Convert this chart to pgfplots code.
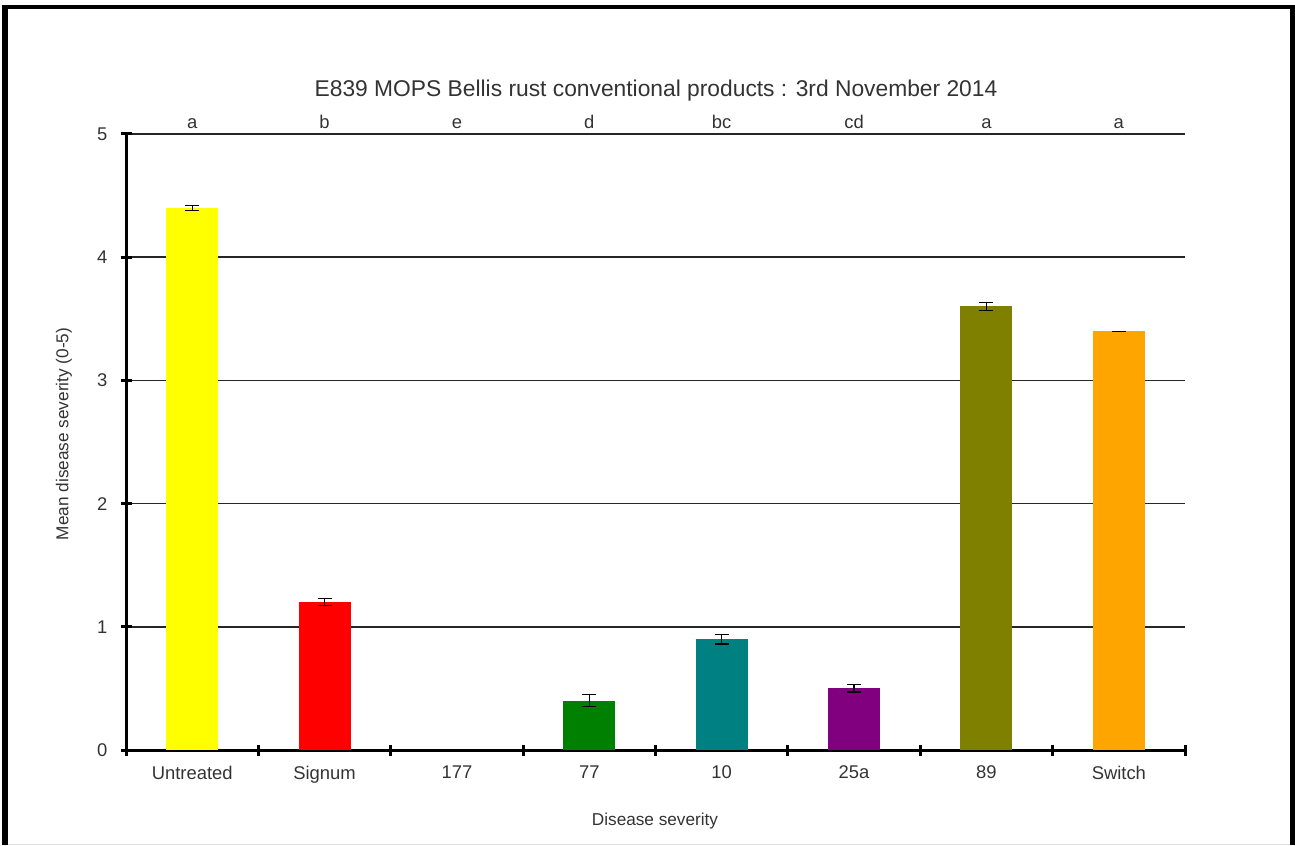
\documentclass[border=0pt]{standalone}
\usepackage{pgfplots}
\pgfplotsset{compat=1.18}
\usepackage{fontspec}
\setmainfont{Liberation Sans}
\definecolor{txt}{HTML}{333333}
\definecolor{cYellow}{HTML}{FFFF00}
\definecolor{cRed}{HTML}{FF0000}
\definecolor{cGreen}{HTML}{008000}
\definecolor{cTeal}{HTML}{008080}
\definecolor{cPurple}{HTML}{800080}
\definecolor{cOlive}{HTML}{808000}
\definecolor{cOrange}{HTML}{FFA500}
\begin{document}
\begin{tikzpicture}[x=0.5bp,y=0.5bp]
% page frame
\path[use as bounding box] (0,0) rectangle (1295,845);
\fill[black] (2,0) rectangle (8,840);
\fill[black] (2,835.5) rectangle (1295,840);
\fill[black] (1290,0) rectangle (1295,840);
\fill[black!12] (8,0) rectangle (1290,1.5);

\begin{axis}[
  at={(63bp,47.5bp)}, anchor=south west,
  scale only axis, width=529.5bp, height=308bp,
  ybar, bar width=26bp, bar shift=0pt,
  xmin=-0.5, xmax=7.5, ymin=0, ymax=5,
  axis x line=bottom, axis y line=left,
  axis line style={-, line width=1.5bp, black},
  ytick={0,1,2,3,4,5},
  ymajorgrids, grid style={line width=0.75bp, black!85},
  xtick={-0.5,0.5,...,7.5}, xticklabels={},
  extra x ticks={0,1,2,3,4,5,6,7},
  extra x tick labels={Untreated,Signum,177,77,10,25a,89,Switch},
  extra x tick style={major tick length=0pt, grid=none},
  tick align=center,
  major tick length=5.5bp,
  tick style={line width=1.5bp, black},
  ticklabel style={font=\fontsize{9.2bp}{10bp}\selectfont, text=txt},
  xticklabel style={yshift=-4.5bp},
  yticklabel style={xshift=-3bp},
  /pgf/number format/assume math mode=true,
  error bars/y dir=both, error bars/y explicit,
  error bars/error bar style={line width=0.6bp, black},
  error bars/error mark options={rotate=90, mark size=3.5bp, line width=0.6bp, black},
  clip=false,
]
\addplot[fill=cYellow, draw=none] coordinates {(0,4.4) +- (0,0.02)};
\addplot[fill=cRed, draw=none] coordinates {(1,1.2) +- (0,0.03)};
\addplot[fill=cGreen, draw=none] coordinates {(3,0.4) +- (0,0.05)};
\addplot[fill=cTeal, draw=none] coordinates {(4,0.9) +- (0,0.04)};
\addplot[fill=cPurple, draw=none] coordinates {(5,0.5) +- (0,0.03)};
\addplot[fill=cOlive, draw=none] coordinates {(6,3.6) +- (0,0.03)};
\addplot[fill=cOrange, draw=none] coordinates {(7,3.4) +- (0,0.0)};
% significance letters
\foreach \i/\l in {0/a,1/b,2/e,3/d,4/bc,5/cd,6/a,7/a}{
  \edef\tmp{\noexpand\node[anchor=south, inner sep=0pt, yshift=2.5bp,
    font=\noexpand\fontsize{9.2bp}{10bp}\noexpand\selectfont, text=txt]
    at (axis cs:\i,5) {\l};}
  \tmp
}
\end{axis}

% title and axis labels
\node[font=\fontsize{11.4bp}{13bp}\selectfont, text=txt] at (656,754) {E839 MOPS Bellis rust conventional products : 3rd November 2014};
\node[font=\fontsize{8.6bp}{10bp}\selectfont, text=txt] at (655,24) {Disease severity};
\node[font=\fontsize{8.6bp}{10bp}\selectfont, text=txt, rotate=90] at (64,411) {Mean disease severity (0-5)};
\end{tikzpicture}
\end{document}
